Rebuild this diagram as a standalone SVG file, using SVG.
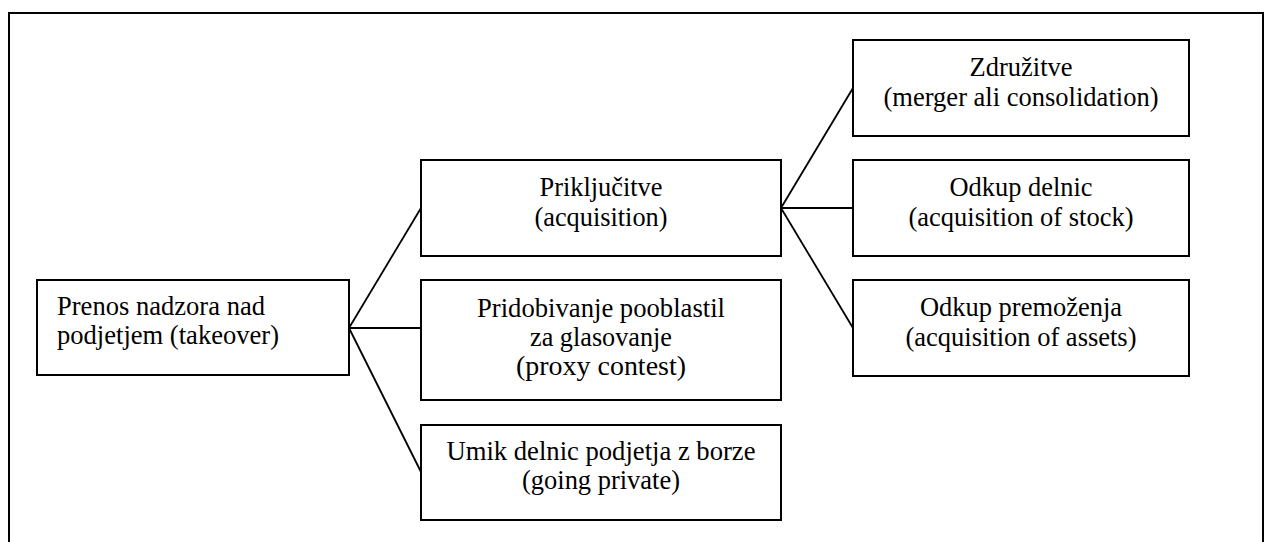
<svg xmlns="http://www.w3.org/2000/svg" width="1265" height="542" viewBox="0 0 1265 542">
<style>
.box{fill:#fff;stroke:#000;stroke-width:2}
.t{font-family:'Liberation Serif',serif;font-size:26.5px;fill:#000;text-anchor:middle}
.tl{text-anchor:start}
.c{stroke:#000;stroke-width:1.8;fill:none}
</style>
<rect width="1265" height="542" fill="#fff"/>
<path d="M9,545 V13 H1263 V545" fill="none" stroke="#000" stroke-width="2"/>
<g id="connectors">
<line class="c" x1="349" y1="328" x2="421" y2="208"/>
<line class="c" x1="349" y1="328" x2="421" y2="328"/>
<line class="c" x1="349" y1="328" x2="421" y2="472"/>
<line class="c" x1="781" y1="208" x2="853" y2="88"/>
<line class="c" x1="781" y1="208" x2="853" y2="208"/>
<line class="c" x1="781" y1="208" x2="853" y2="328"/>
</g>
<g id="takeover">
<rect class="box" x="37" y="280" width="312" height="95"/>
<text class="t tl" x="57" y="315" textLength="208" lengthAdjust="spacingAndGlyphs">Prenos nadzora nad</text>
<text class="t tl" x="57" y="344" textLength="222" lengthAdjust="spacingAndGlyphs">podjetjem (takeover)</text>
</g>
<g id="acquisition">
<rect class="box" x="421" y="160" width="360" height="96"/>
<text class="t" x="601" y="196" textLength="123" lengthAdjust="spacingAndGlyphs">Priključitve</text>
<text class="t" x="601" y="226" textLength="133" lengthAdjust="spacingAndGlyphs">(acquisition)</text>
</g>
<g id="proxy">
<rect class="box" x="421" y="280" width="360" height="120"/>
<text class="t" x="601" y="317" textLength="248" lengthAdjust="spacingAndGlyphs">Pridobivanje pooblastil</text>
<text class="t" x="601" y="346" textLength="142" lengthAdjust="spacingAndGlyphs">za glasovanje</text>
<text class="t" x="601" y="375" textLength="170" lengthAdjust="spacingAndGlyphs">(proxy contest)</text>
</g>
<g id="private">
<rect class="box" x="421" y="425" width="360" height="95"/>
<text class="t" x="601" y="460" textLength="309" lengthAdjust="spacingAndGlyphs">Umik delnic podjetja z borze</text>
<text class="t" x="601" y="489" textLength="158" lengthAdjust="spacingAndGlyphs">(going private)</text>
</g>
<g id="merger">
<rect class="box" x="853" y="40" width="336" height="96"/>
<text class="t" x="1021" y="76" textLength="103" lengthAdjust="spacingAndGlyphs">Združitve</text>
<text class="t" x="1021" y="106" textLength="275" lengthAdjust="spacingAndGlyphs">(merger ali consolidation)</text>
</g>
<g id="stock">
<rect class="box" x="853" y="160" width="336" height="96"/>
<text class="t" x="1021" y="196" textLength="143" lengthAdjust="spacingAndGlyphs">Odkup delnic</text>
<text class="t" x="1021" y="226" textLength="225" lengthAdjust="spacingAndGlyphs">(acquisition of stock)</text>
</g>
<g id="assets">
<rect class="box" x="853" y="280" width="336" height="96"/>
<text class="t" x="1021" y="316" textLength="202" lengthAdjust="spacingAndGlyphs">Odkup premoženja</text>
<text class="t" x="1021" y="346" textLength="231" lengthAdjust="spacingAndGlyphs">(acquisition of assets)</text>
</g>
</svg>
